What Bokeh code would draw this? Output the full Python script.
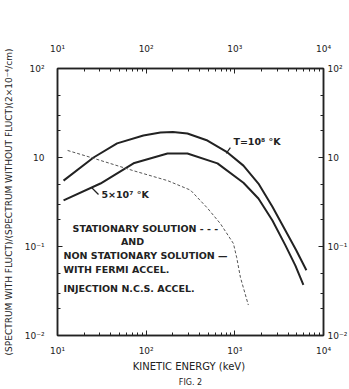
from bokeh.plotting import figure
from bokeh.models import LogAxis, FixedTicker, Label, Title, Range1d
from bokeh.embed import file_html
from bokeh.resources import INLINE

# T = 1e8 K, non-stationary solution
energy_hot = [11.7, 25.5, 47, 93, 145, 200, 292, 491, 826, 1250, 1845, 2655, 3720, 4940, 6410]
ratio_hot = [5.5, 10.0, 14.4, 17.7, 19.1, 19.3, 18.6, 15.5, 11.4, 8.1, 5.1, 2.8, 1.51, 0.90, 0.54]
# T = 5e7 K
energy_warm = [11.7, 30.5, 72, 174, 292, 637, 1250, 1845, 2655, 3720, 4820, 5930]
ratio_warm = [3.3, 5.1, 8.6, 11.1, 11.1, 8.6, 5.2, 3.46, 1.96, 1.03, 0.61, 0.37]
# stationary solution
energy_stat = [13, 25.5, 72, 174, 316, 491, 689, 964, 1050, 1156, 1420]
ratio_stat = [12.0, 9.8, 7.1, 5.5, 4.3, 2.7, 1.8, 1.08, 0.75, 0.45, 0.22]

x_ticks = [10, 100, 1000, 10000]
x_tick_labels = ["10¹", "10²", "10³", "10⁴"]
x_minor = [20, 30, 40, 50, 60, 70, 80, 90, 200, 300, 400, 500, 600, 700, 800, 900,
           2000, 3000, 4000, 5000, 6000, 7000, 8000, 9000]
y_ticks = [0.1, 1, 10, 100]
y_tick_labels = ["10⁻²", "10⁻¹", "10", "10²"]
y_minor = [0.2, 0.3, 0.5, 2, 3, 5, 20, 30, 50]

# leader lines from curve labels to their curves (energy, ratio) pairs
leader_x0 = [800, 24.2]
leader_y0 = [11.1, 4.6]
leader_x1 = [891, 29]
leader_y1 = [12.9, 3.84]

FONT = "DejaVu Sans"
INK = "#222222"

p = figure(frame_width=266, frame_height=267, x_axis_type="log", y_axis_type="log",
           x_range=Range1d(10, 1e4), y_range=Range1d(0.1, 100),
           output_backend="svg", toolbar_location=None,
           min_border_left=57, min_border_right=20, min_border_top=68,
           min_border_bottom=50, background_fill_color="white",
           border_fill_color="white")
p.grid.visible = False
p.outline_line_color = INK
p.outline_line_width = 1.5

xlab = dict(zip(x_ticks, x_tick_labels))
ylab = dict(zip(y_ticks, y_tick_labels))


def style(ax, ticks, minor, labels):
    ax.ticker = FixedTicker(ticks=ticks, minor_ticks=minor)
    ax.major_label_overrides = labels
    ax.major_tick_in = 5
    ax.major_tick_out = 0
    ax.minor_tick_in = 3
    ax.minor_tick_out = 0
    ax.axis_line_color = INK
    ax.axis_line_width = 1.5
    ax.major_tick_line_color = INK
    ax.minor_tick_line_color = INK
    ax.major_label_text_font = FONT
    ax.major_label_text_font_size = "9px"
    ax.major_label_text_color = INK


style(p.xaxis[0], x_ticks, x_minor, xlab)
style(p.yaxis[0], y_ticks, y_minor, ylab)
p.xaxis[0].major_label_standoff = 10
p.yaxis[0].major_label_standoff = 13
p.xaxis[0].axis_label = "KINETIC  ENERGY (keV)"
p.xaxis[0].axis_label_standoff = 2
p.yaxis[0].axis_label = "(SPECTRUM WITH FLUCT)/(SPECTRUM WITHOUT FLUCT)(2×10⁻⁴/cm)"
p.yaxis[0].axis_label_standoff = 8
for ax in (p.xaxis[0], p.yaxis[0]):
    ax.axis_label_text_font = FONT
    ax.axis_label_text_font_style = "normal"
    ax.axis_label_text_color = INK
p.xaxis[0].axis_label_text_font_size = "10px"
p.yaxis[0].axis_label_text_font_size = "9px"

top = LogAxis()
style(top, x_ticks, x_minor, xlab)
top.major_label_standoff = 15
p.add_layout(top, "above")
right = LogAxis()
style(right, y_ticks, y_minor, ylab)
right.major_label_standoff = 4
p.add_layout(right, "right")

p.add_layout(Title(text="FIG. 2", align="center", text_font=FONT,
                   text_font_size="8px", text_font_style="normal",
                   text_color=INK, standoff=3), "below")

p.line(energy_hot, ratio_hot, line_color=INK, line_width=2)
p.line(energy_warm, ratio_warm, line_color=INK, line_width=2)
p.line(energy_stat, ratio_stat, line_color="#555555", line_width=1,
       line_dash="3 2")
p.segment(leader_x0, leader_y0, leader_x1, leader_y1, line_color=INK,
          line_width=1.2)

notes = [
    ("T=10⁸ °K", 964, 15.1),
    ("5×10⁷ °K", 31.3, 3.8),
    ("STATIONARY  SOLUTION - - -", 14.8, 1.6),
    ("AND", 52, 1.14),
    ("NON STATIONARY  SOLUTION —", 11.7, 0.79),
    ("WITH  FERMI  ACCEL.", 11.7, 0.55),
    ("INJECTION  N.C.S.  ACCEL.", 11.7, 0.34),
]
for txt, x, y in notes:
    p.add_layout(Label(x=x, y=y, text=txt, text_font=FONT,
                       text_font_size="9.5px", text_font_style="bold",
                       text_color=INK, text_baseline="middle"))

open("out.html", "w").write(file_html(p, INLINE))
